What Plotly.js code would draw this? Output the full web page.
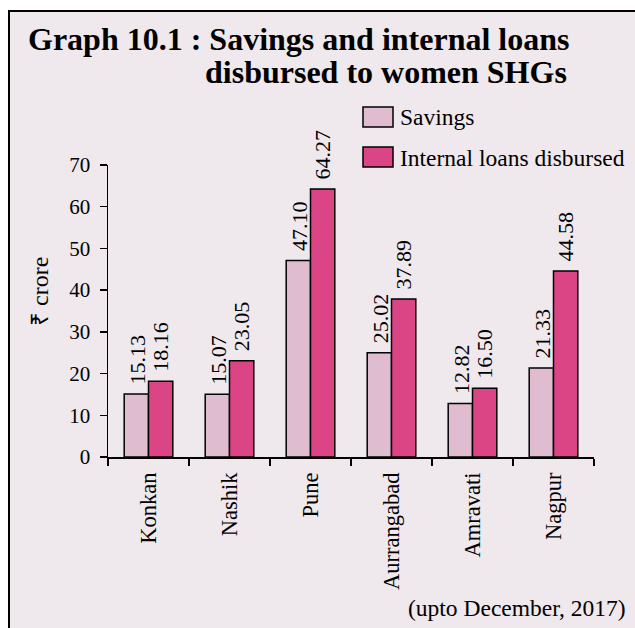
<!DOCTYPE html>
<html>
<head>
<meta charset="utf-8">
<script src="https://cdn.plot.ly/plotly-3.0.1.min.js"></script>
<style>html,body{margin:0;padding:0;background:#fff;}#chart{width:635px;height:628px;}</style>
</head>
<body>
<div id="chart"></div>
<script>
// ---- data ----
const categories = ['Konkan', 'Nashik', 'Pune', 'Aurrangabad', 'Amravati', 'Nagpur'];
const savings = [15.13, 15.07, 47.10, 25.02, 12.82, 21.33];
const loans = [18.16, 23.05, 64.27, 37.89, 16.50, 44.58];
const seriesNames = ['Savings', 'Internal loans disbursed'];
const yTickVals = [0, 10, 20, 30, 40, 50, 60, 70];
const titleLine1 = 'Graph 10.1 : Savings and internal loans';
const titleLine2 = 'disbursed to women SHGs';
const yTitle = '₹ crore';
const footnote = '(upto December, 2017)';

// ---- styling ----
const FONT = '"Liberation Serif", "Times New Roman", Times, serif';
const BG = '#efe8ec';
const C_SAV = '#dfbccf';
const C_LOAN = '#dc4585';
const L = 108, T = 165, W = 486, H = 292, WIDTH = 635, HEIGHT = 628;
const px = x => (x - L) / W;
const py = y => (T + H - y) / H;

const traces = [
  {type: 'bar', name: seriesNames[0], x: categories, y: savings,
   marker: {color: C_SAV, line: {color: '#000', width: 1.5}}, showlegend: false, hoverinfo: 'x+y'},
  {type: 'bar', name: seriesNames[1], x: categories, y: loans,
   marker: {color: C_LOAN, line: {color: '#000', width: 1.5}}, showlegend: false, hoverinfo: 'x+y'}
];

const annotations = [];
// value labels
[[savings, -11], [loans, 12]].forEach(([arr, shift]) => {
  arr.forEach((v, i) => {
    annotations.push({x: categories[i], y: v, xref: 'x', yref: 'y', text: v.toFixed(2),
      textangle: -90, showarrow: false, xanchor: 'center', yanchor: 'bottom',
      xshift: shift, yshift: 7, font: {family: FONT, size: 22, color: '#000'}});
  });
});
// title
annotations.push({xref: 'paper', yref: 'paper', x: px(26), y: py(38.5), xanchor: 'left', yanchor: 'middle',
  text: '<b>' + titleLine1 + '</b>', showarrow: false, font: {family: FONT, size: 32, color: '#000'}});
annotations.push({xref: 'paper', yref: 'paper', x: px(203), y: py(72.5), xanchor: 'left', yanchor: 'middle',
  text: '<b>' + titleLine2 + '</b>', showarrow: false, font: {family: FONT, size: 32, color: '#000'}});
// legend texts
annotations.push({xref: 'paper', yref: 'paper', x: px(398), y: py(117), xanchor: 'left', yanchor: 'middle',
  text: seriesNames[0], showarrow: false, font: {family: FONT, size: 23.5, color: '#000'}});
annotations.push({xref: 'paper', yref: 'paper', x: px(398), y: py(158), xanchor: 'left', yanchor: 'middle',
  text: seriesNames[1], showarrow: false, font: {family: FONT, size: 23.5, color: '#000'}});
// y title
annotations.push({xref: 'paper', yref: 'paper', x: px(40), y: py(292), xanchor: 'center', yanchor: 'middle',
  text: yTitle, textangle: -90, showarrow: false, font: {family: FONT, size: 24, color: '#000'}});
// footnote
annotations.push({xref: 'paper', yref: 'paper', x: px(628), y: py(608), xanchor: 'right', yanchor: 'middle',
  text: footnote, showarrow: false, font: {family: FONT, size: 23.5, color: '#000'}});

const shapes = [
  {type: 'rect', xref: 'paper', yref: 'paper', x0: px(9), y0: py(11), x1: px(720), y1: py(720),
   fillcolor: BG, line: {color: '#000', width: 2}, layer: 'below'},
  {type: 'rect', xref: 'paper', yref: 'paper', x0: px(363), y0: py(107), x1: px(393), y1: py(127),
   fillcolor: C_SAV, line: {color: '#000', width: 1.5}},
  {type: 'rect', xref: 'paper', yref: 'paper', x0: px(363), y0: py(147), x1: px(393), y1: py(167),
   fillcolor: C_LOAN, line: {color: '#000', width: 1.5}}
];

const layout = {
  width: WIDTH, height: HEIGHT,
  margin: {l: L, r: WIDTH - L - W, t: T, b: HEIGHT - T - H, pad: 0},
  paper_bgcolor: '#ffffff', plot_bgcolor: 'rgba(0,0,0,0)',
  barmode: 'group', bargap: 0.4, bargroupgap: 0,
  showlegend: false,
  font: {family: FONT, color: '#000'},
  xaxis: {type: 'category', showline: true, linecolor: '#000', linewidth: 1.5,
    ticks: 'outside', ticklen: 7, tickwidth: 1.5, tickcolor: '#000', tickson: 'boundaries',
    tickangle: -90, ticklabelstandoff: 5, tickfont: {family: FONT, size: 22.5, color: '#000'},
    showgrid: false, zeroline: false, fixedrange: true},
  yaxis: {range: [0, 70], tickvals: yTickVals, showline: true, linecolor: '#000', linewidth: 1.5,
    ticks: 'outside', ticklen: 7, tickwidth: 1.5, tickcolor: '#000', ticklabelstandoff: 5,
    tickfont: {family: FONT, size: 21, color: '#000'},
    showgrid: false, zeroline: false, fixedrange: true},
  annotations: annotations,
  shapes: shapes
};

Plotly.newPlot('chart', traces, layout, {displayModeBar: false, staticPlot: true});
</script>
</body>
</html>
